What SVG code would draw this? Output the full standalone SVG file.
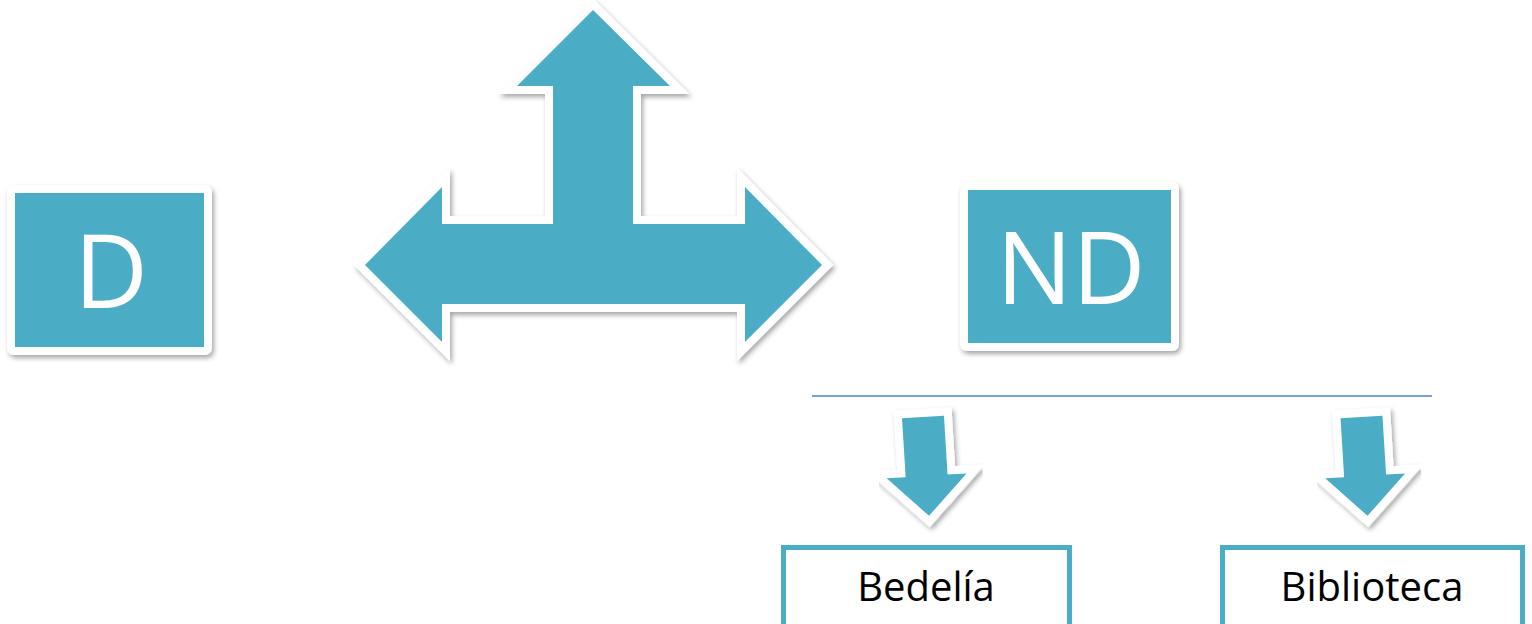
<svg xmlns="http://www.w3.org/2000/svg" width="1532" height="624" viewBox="0 0 1532 624">
<defs>
<filter id="sh" x="-10%" y="-10%" width="130%" height="130%">
<feDropShadow dx="2" dy="3" stdDeviation="2.5" flood-color="#000" flood-opacity="0.35"/>
</filter>
<polygon id="small" points="-21,0 21,0 21,59 40,59 0,99 -40,59 -21,59"/>
<polygon id="big" points="593,10 670,86 633,86 633,224 745,224 745,187 822,265 745,342 745,304 442,304 442,342 365,265 442,187 442,224 553,224 553,86 517,86"/>
</defs>
<style>
.teal{fill:#4BACC6}
.outline{fill:#4BACC6;stroke:#fff;stroke-width:16;stroke-linejoin:miter;stroke-miterlimit:4}
.sbox{fill:#4BACC6;stroke:#fff;stroke-width:8}
.wlabel{font-family:"Open Sans","Liberation Sans",sans-serif;fill:#fff;text-anchor:middle}
.blabel{font-family:"Open Sans","Liberation Sans",sans-serif;fill:#000;font-size:40px;text-anchor:middle}
.obox{fill:#fff;stroke:#4BACC6;stroke-width:5}
</style>
<rect width="1532" height="624" fill="#fff"/>
<g id="node-D">
<rect x="11" y="189" width="197" height="162" rx="3" class="sbox" filter="url(#sh)"/>
<text x="111" y="308" class="wlabel" font-size="102">D</text>
</g>
<g id="node-ND">
<rect x="964" y="186" width="211" height="161" rx="3" class="sbox" filter="url(#sh)"/>
<text x="1071" y="304" class="wlabel" font-size="101">ND</text>
</g>
<g id="connectors">
<g id="t-arrow">
<use href="#big" class="outline" filter="url(#sh)"/>
<use href="#big" class="teal"/>
</g>
<line x1="812" y1="396" x2="1432" y2="396" stroke="#4F81BD" stroke-width="1.5"/>
<g id="arrow-bedelia" transform="translate(923,417) rotate(-3.5)">
<use href="#small" class="outline" filter="url(#sh)"/>
<use href="#small" class="teal"/>
</g>
<g id="arrow-biblioteca" transform="translate(1361.5,417) rotate(-3.5)">
<use href="#small" class="outline" filter="url(#sh)"/>
<use href="#small" class="teal"/>
</g>
</g>
<g id="node-bedelia">
<rect x="783.5" y="547.5" width="286" height="90" class="obox"/>
<text x="926" y="601" class="blabel">Bedelía</text>
</g>
<g id="node-biblioteca">
<rect x="1222.5" y="547.5" width="300" height="90" class="obox"/>
<text x="1372" y="601" class="blabel">Biblioteca</text>
</g>
</svg>
